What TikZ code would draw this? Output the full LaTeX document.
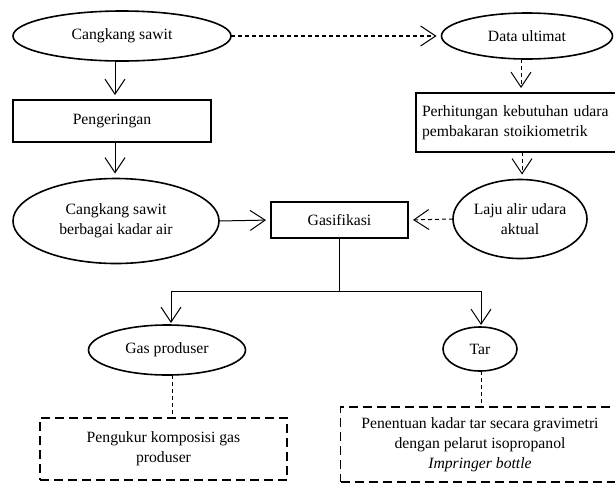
\documentclass[tikz,border=0pt]{standalone}
\usepackage{fontspec}
\setmainfont{Liberation Serif}
\usetikzlibrary{shapes.geometric,arrows.meta}
\begin{document}
\begin{tikzpicture}[x=1pt,y=-1pt,
  every node/.style={font=\fontsize{15.7}{20}\selectfont, inner sep=0pt, outer sep=0pt},
  ell/.style={ellipse, draw, line width=1.6pt, align=center},
  boxs/.style={rectangle, draw, line width=1.8pt, align=center},
  dbox/.style={rectangle, draw, line width=1.6pt, dash pattern=on 9pt off 5pt, align=center},
  arr/.style={line width=1pt, -{Straight Barb[length=15pt,width=20pt,line width=1pt]}, shorten >=5pt},
  darr/.style={arr, dash pattern=on 4pt off 3pt},
  dline/.style={line width=1pt, dash pattern=on 4pt off 3pt},
  sline/.style={line width=1pt}]
\useasboundingbox (0,0) rectangle (615,483);
\clip (0,0) rectangle (615,483);
\node[ell, minimum width=218pt, minimum height=50pt] (cs) at (122,36) {Cangkang sawit};
\node[ell, minimum width=171pt, minimum height=46pt] (du) at (527,36) {Data ultimat};
\node[boxs, minimum width=198pt, minimum height=42pt] (peng) at (112,121) {Pengeringan};
\node[boxs, align=left, text width=195pt, inner xsep=6pt, minimum height=59pt] (perh) at (519.5,122.5) {Perhitungan kebutuhan udara\\pembakaran stoikiometrik};
\node[ell, minimum width=206pt, minimum height=85pt] (ck) at (116,221) {Cangkang sawit\\berbagai kadar air};
\node[boxs, minimum width=137pt, minimum height=36pt] (gas) at (339.5,220) {Gasifikasi};
\node[ell, minimum width=134pt, minimum height=79pt] (laju) at (520,219) {Laju alir udara\\aktual};
\node[ell, minimum width=157pt, minimum height=50pt] (gp) at (167,350) {Gas produser};
\node[ell, minimum width=74pt, minimum height=44pt] (tar) at (480,349) {Tar};
\node[dbox, minimum width=247pt, minimum height=62pt] (pk) at (163.5,449) {Pengukur komposisi gas\\produser};
\node[dbox, minimum width=279pt, minimum height=75pt] (pt) at (480,444.5) {Penentuan kadar tar secara gravimetri\\dengan pelarut isopropanol\\\textit{Impringer bottle}};
\coordinate (split) at (339.5,291);
\draw[arr] ([xshift=-7pt]cs.south) -- ([xshift=3pt]peng.north);
\draw[darr, line width=1.3pt] (cs.east) -- (du.west);
\draw[darr] ([xshift=-6pt]du.south) -- ([xshift=1.5pt]perh.north);
\draw[arr] ([xshift=3pt]peng.south) -- ([xshift=-1pt]ck.north);
\draw[darr] ([xshift=2.5pt]perh.south) -- ([xshift=2pt]laju.north);
\draw[arr] (ck.east) -- (gas.west);
\draw[darr] (laju.west) -- (gas.east);
\draw[sline] (gas.south) -- (split);
\draw[arr, shorten >=2pt] (split) -| ([xshift=4pt]gp.north);
\draw[arr, shorten >=2pt] (split) -| ([xshift=1pt]tar.north);
\draw[dline] ([xshift=5pt]gp.south) -- ([xshift=5pt]gp.south |- pk.north);
\draw[dline] ([xshift=1pt]tar.south) -- ([xshift=1pt]tar.south |- pt.north);
\end{tikzpicture}
\end{document}
